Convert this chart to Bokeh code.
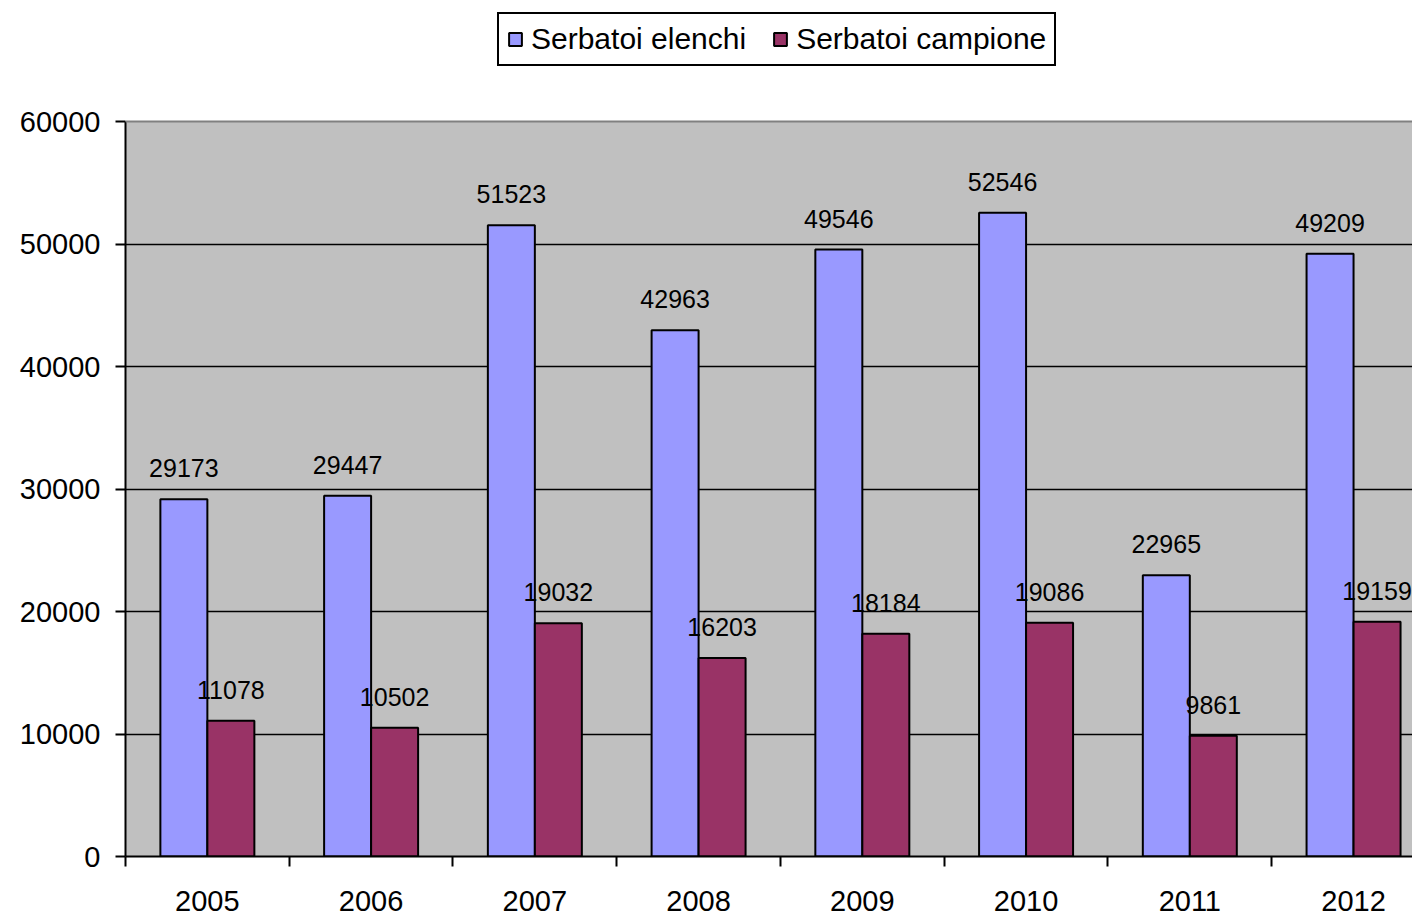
from bokeh.plotting import figure
from bokeh.models import (ColumnDataSource, FixedTicker, Legend, LegendItem, LabelSet,
                          Span, Range1d, NumeralTickFormatter, BoxAnnotation)
from bokeh.core.properties import value
from bokeh.embed import file_html
from bokeh.resources import INLINE
import numpy as np

years = ["2005", "2006", "2007", "2008", "2009", "2010", "2011", "2012"]
elenchi = [29173, 29447, 51523, 42963, 49546, 52546, 22965, 49209]
campione = [11078, 10502, 19032, 16203, 18184, 19086, 9861, 19159]
y_ticks = [0, 10000, 20000, 30000, 40000, 50000, 60000]

FONT = "Liberation Sans"
BAR_W = 0.287
Y_MAX = 60000
W, H = 1412, 916
BORDER_LEFT, BORDER_BOTTOM = 125, 60
PLOT_TOP_PX = 121          # pixel row of the 60000 line
FRAME_H = H - BORDER_BOTTOM
Y_END = Y_MAX * FRAME_H / (FRAME_H - PLOT_TOP_PX)

idx = np.arange(len(years))
centers = idx + 0.5

src = ColumnDataSource(dict(
    x1=centers - BAR_W / 2, x2=centers + BAR_W / 2,
    e=elenchi, c=campione,
    el=[str(v) for v in elenchi], cl=[str(v) for v in campione]))

p = figure(width=W, height=H, output_backend="svg", toolbar_location=None,
           x_range=Range1d(0, 7.86), y_range=Range1d(0, Y_END),
           min_border_left=BORDER_LEFT, min_border_right=0, min_border_top=0,
           min_border_bottom=BORDER_BOTTOM)
p.background_fill_color = "white"
p.border_fill_color = "white"
p.outline_line_color = None

# grey plot area (0 .. 60000)
p.add_layout(BoxAnnotation(bottom=0, top=Y_MAX, fill_color="#C0C0C0", fill_alpha=1.0,
                           line_color=None, level="image"))

p.xgrid.visible = False
p.ygrid.ticker = FixedTicker(ticks=y_ticks[1:-1])
p.ygrid.grid_line_color = "black"
p.ygrid.grid_line_width = 1.5

r1 = p.vbar(x="x1", top="e", width=BAR_W, source=src, fill_color="#9999FF",
            line_color="black", line_width=2)
r2 = p.vbar(x="x2", top="c", width=BAR_W, source=src, fill_color="#993366",
            line_color="black", line_width=2)

p.add_layout(Span(location=Y_MAX, dimension="width", line_color="#808080", line_width=2))

for xcol, ycol, tcol in (("x1", "e", "el"), ("x2", "c", "cl")):
    p.add_layout(LabelSet(x=xcol, y=ycol, text=tcol, source=src, y_offset=22,
                          text_align="center", text_baseline="alphabetic",
                          text_font=value(FONT), text_font_size="25px",
                          text_color="black"))

ya = p.yaxis[0]
ya.ticker = FixedTicker(ticks=y_ticks)
ya.bounds = (0, Y_MAX)
ya.formatter = NumeralTickFormatter(format="0")
ya.axis_line_width = 2
ya.axis_line_color = "black"
ya.major_tick_out = 10
ya.major_tick_in = 0
ya.major_tick_line_width = 2
ya.minor_tick_line_color = None
ya.major_label_standoff = 15
ya.major_label_text_font = FONT
ya.major_label_text_font_size = "29px"
ya.major_label_text_color = "black"

xa = p.xaxis[0]
xa.ticker = FixedTicker(ticks=[float(c) for c in centers], minor_ticks=[float(i) for i in idx])
xa.major_label_overrides = {float(c): y for c, y in zip(centers, years)}
xa.axis_line_width = 2
xa.axis_line_color = "black"
xa.major_tick_out = 0
xa.major_tick_in = 0
xa.minor_tick_out = 10
xa.minor_tick_in = 0
xa.minor_tick_line_color = "black"
xa.minor_tick_line_width = 2
xa.major_label_standoff = 24
xa.major_label_text_font = FONT
xa.major_label_text_font_size = "29px"
xa.major_label_text_color = "black"

legend = Legend(items=[LegendItem(label="Serbatoi elenchi", renderers=[r1]),
                       LegendItem(label="Serbatoi campione", renderers=[r2])],
                orientation="horizontal", location=(372, FRAME_H - 66),
                glyph_width=16, glyph_height=16, label_standoff=8, spacing=26,
                padding=8, margin=0, border_line_color="black", border_line_width=2,
                border_line_alpha=1.0,
                background_fill_color="white", background_fill_alpha=1.0,
                label_text_font=FONT, label_text_font_size="30px",
                label_text_color="black")
p.add_layout(legend)

open("out.html", "w").write(file_html(p, INLINE))
